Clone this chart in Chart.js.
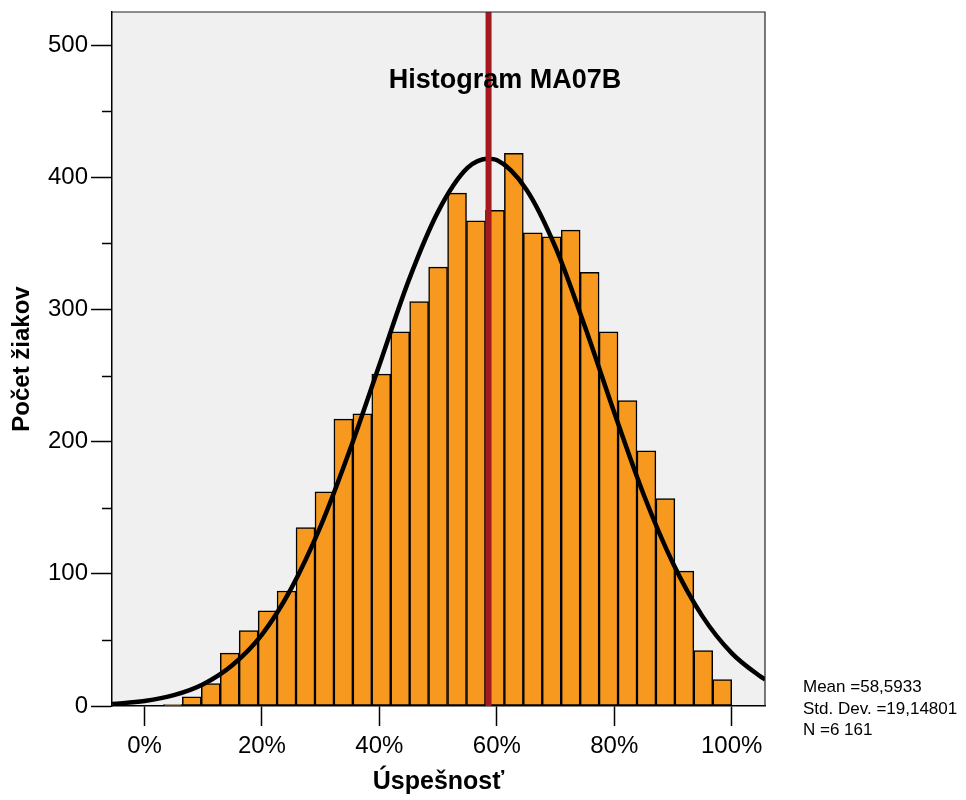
<!DOCTYPE html>
<html>
<head>
<meta charset="utf-8">
<title>Histogram MA07B</title>
<script src="https://cdn.jsdelivr.net/npm/chart.js@4/dist/chart.umd.min.js"></script>
<style>
  html, body { margin: 0; padding: 0; background: #fff; }
  #wrap { width: 966px; height: 800px; position: relative; }
</style>
</head>
<body>
<div id="wrap"><canvas id="histChart"></canvas></div>
<script>
// bin centres (%), 31 bins of 100/31 each
const binCenters = [1.61, 4.84, 8.06, 11.29, 14.52, 17.74, 20.97, 24.19, 27.42, 30.65,
  33.87, 37.10, 40.32, 43.55, 46.77, 50.00, 53.23, 56.45, 59.68, 62.90,
  66.13, 69.35, 72.58, 75.81, 79.03, 82.26, 85.48, 88.71, 91.94, 95.16, 98.39];
const pupilCounts = [0, 1, 7, 17, 40, 57, 72, 87, 135, 162,
  217, 221, 251, 283, 306, 332, 388, 367, 375, 418,
  358, 355, 360, 328, 283, 231, 193, 157, 102, 42, 20];

// normal curve readings
const curveX = [-5.5, 0, 5, 10, 15, 20, 25, 30, 35, 40, 45, 50, 55, 58.6,
  60, 65, 70, 75, 80, 85, 90, 95, 100, 105, 105.7];
const curveY = [1.5, 3.8, 8.2, 16.5, 31, 54, 89, 136, 194, 258, 322, 374, 407, 414,
  413, 391, 347, 287, 222, 160, 108, 68, 40, 22, 20];

const meanValue = 58.5933;
const statLines = ["Mean =58,5933", "Std. Dev. =19,14801", "N =6 161"];
const xTicks = [0, 20, 40, 60, 80, 100];
const yTicks = [0, 100, 200, 300, 400, 500];
const yMinorTicks = [50, 150, 250, 350, 450];

const FONT = "'Liberation Sans', Arial, sans-serif";

const extras = {
  id: "extras",
  beforeDraw(chart) {
    const { ctx, chartArea: a } = chart;
    ctx.save();
    ctx.fillStyle = "#f0f0f0";
    ctx.fillRect(a.left, a.top, a.right - a.left, a.bottom - a.top);
    ctx.restore();
  },
  afterDraw(chart) {
    const { ctx, chartArea: a } = chart;
    const y = chart.scales.y;
    ctx.save();
    // minor ticks
    ctx.strokeStyle = "#000";
    ctx.lineWidth = 1.5;
    yMinorTicks.forEach((v) => {
      const py = Math.round(y.getPixelForValue(v)) + 0.5;
      ctx.beginPath();
      ctx.moveTo(a.left - 10, py);
      ctx.lineTo(a.left, py);
      ctx.stroke();
    });
    // frame top / right
    ctx.strokeStyle = "#222";
    ctx.lineWidth = 1.2;
    ctx.beginPath();
    ctx.moveTo(a.left, a.top);
    ctx.lineTo(a.right, a.top);
    ctx.lineTo(a.right, a.bottom);
    ctx.stroke();

    // title inside plot
    ctx.fillStyle = "#000";
    ctx.font = "bold 27px " + FONT;
    ctx.textAlign = "center";
    ctx.textBaseline = "middle";
    ctx.fillText("Histogram MA07B", 505, 81);

    // stats box
    ctx.font = "17px " + FONT;
    ctx.textAlign = "left";
    ctx.textBaseline = "alphabetic";
    statLines.forEach((t, i) => ctx.fillText(t, 803, 692 + i * 21.5));
    ctx.restore();
  },
};

new Chart(document.getElementById("histChart"), {
  data: {
    datasets: [
      {
        type: "line",
        label: "Mean",
        data: [{ x: meanValue, y: 0 }, { x: meanValue, y: 525 }],
        borderColor: "#a3191f",
        borderWidth: 6,
        pointRadius: 0,
        order: 0,
      },
      {
        type: "line",
        label: "Normal",
        data: curveX.map((x, i) => ({ x: x, y: curveY[i] })),
        borderColor: "#000",
        borderWidth: 4.5,
        pointRadius: 0,
        cubicInterpolationMode: "monotone",
        order: 1,
      },
      {
        type: "bar",
        label: "Počet žiakov",
        data: binCenters.map((x, i) => ({ x: x, y: pupilCounts[i] })),
        backgroundColor: "#f7991f",
        borderColor: "#000",
        borderWidth: 1.5,
        borderSkipped: false,
        barPercentage: 1,
        categoryPercentage: 1,
        grouped: false,
        order: 2,
      },
    ],
  },
  options: {
    responsive: true,
    maintainAspectRatio: false,
    animation: false,
    layout: { padding: { top: 12, right: 201, left: 0, bottom: 0 } },
    plugins: {
      legend: { display: false },
      tooltip: { enabled: false },
    },
    scales: {
      x: {
        type: "linear",
        min: -5.53,
        max: 105.67,
        offset: false,
        afterFit: (s) => {
          s.height = 94;
          s.paddingLeft = 0;
          s.paddingRight = 0;
        },
        afterBuildTicks: (s) => { s.ticks = xTicks.map((v) => ({ value: v })); },
        grid: {
          offset: false,
          drawOnChartArea: false,
          tickLength: 20,
          tickColor: "#000",
          tickWidth: 1.5,
        },
        border: { display: true, color: "#000", width: 1.5 },
        ticks: {
          color: "#000",
          padding: 6,
          maxRotation: 0,
          font: { family: FONT, size: 24 },
          callback: (v) => v + "%",
        },
        title: {
          display: true,
          text: "Úspešnosť",
          color: "#000",
          font: { family: FONT, size: 25, weight: "bold" },
          padding: { top: 0, bottom: 3 },
        },
      },
      y: {
        type: "linear",
        min: 0,
        max: 525,
        afterFit: (s) => {
          s.width = 112;
          s.paddingTop = 0;
          s.paddingBottom = 0;
        },
        afterBuildTicks: (s) => { s.ticks = yTicks.map((v) => ({ value: v })); },
        grid: {
          drawOnChartArea: false,
          tickLength: 21,
          tickColor: "#000",
          tickWidth: 1.5,
        },
        border: { display: true, color: "#000", width: 1.5 },
        ticks: {
          color: "#000",
          padding: 3,
          font: { family: FONT, size: 24 },
        },
        title: {
          display: true,
          text: "Počet žiakov",
          color: "#000",
          font: { family: FONT, size: 24, weight: "bold" },
          padding: { top: 8, bottom: 0 },
        },
      },
    },
  },
  plugins: [extras],
});
</script>
</body>
</html>
